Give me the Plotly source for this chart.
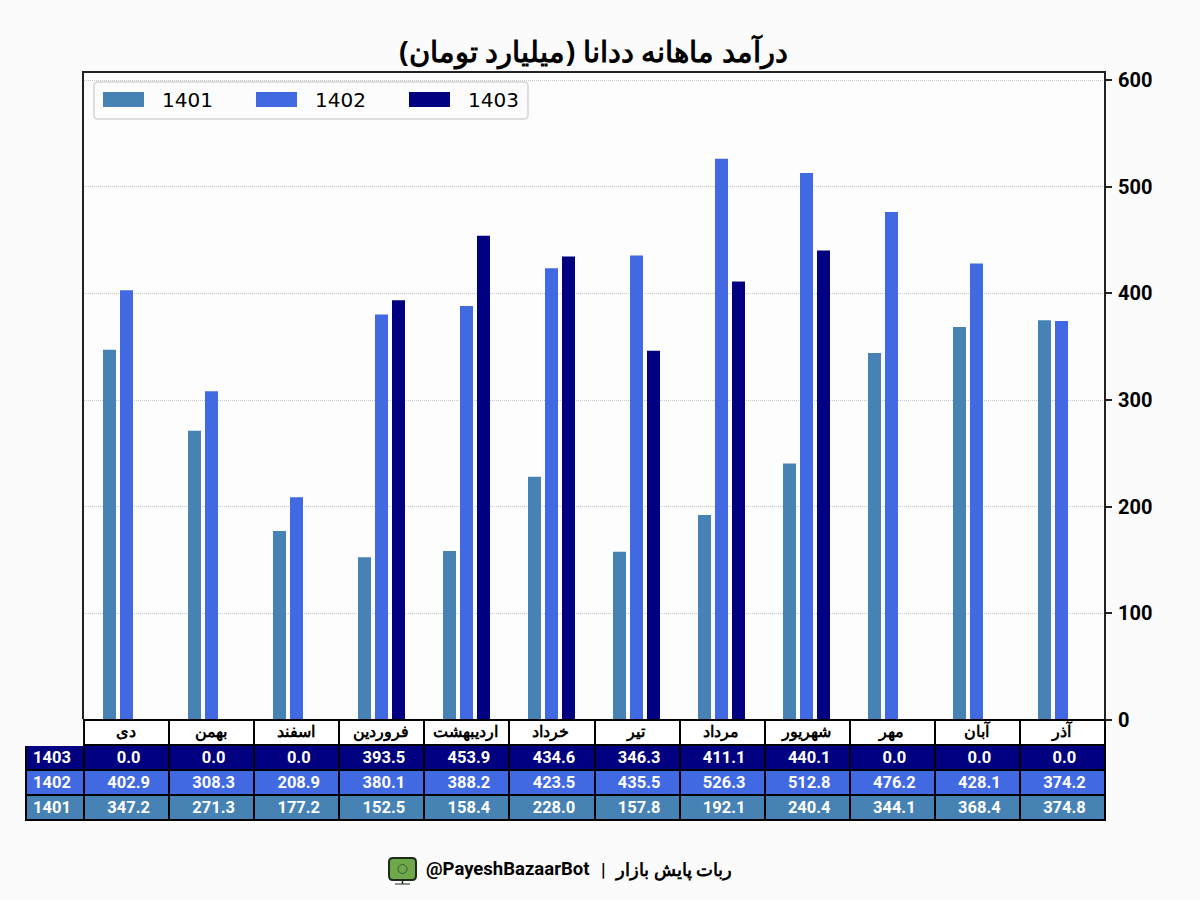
import plotly.graph_objects as go

months = ["دی", "بهمن", "اسفند", "فروردین", "اردیبهشت", "خرداد", "تیر", "مرداد", "شهریور", "مهر", "آبان", "آذر"]
v1401 = [347.2, 271.3, 177.2, 152.5, 158.4, 228.0, 157.8, 192.1, 240.4, 344.1, 368.4, 374.8]
v1402 = [402.9, 308.3, 208.9, 380.1, 388.2, 423.5, 435.5, 526.3, 512.8, 476.2, 428.1, 374.2]
v1403 = [0.0, 0.0, 0.0, 393.5, 453.9, 434.6, 346.3, 411.1, 440.1, 0.0, 0.0, 0.0]
series_names = ["1401", "1402", "1403"]
colors = ["#4682B4", "#4169E1", "#000080"]
title_text = "درآمد ماهانه ددانا (میلیارد تومان)"
footer_fa = "ربات پایش بازار"
footer_en = "@PayeshBazaarBot"

W, H = 1200, 900
BG = "#FBFBFB"
PLOT_BG = "#FDFDFD"
px = lambda x: x / W
py = lambda y: 1 - y / H


def rrect(x0, y0, x1, y1, r):
    return " ".join([f"M{px(x0 + r)},{py(y0)}", f"L{px(x1 - r)},{py(y0)}", f"Q{px(x1)},{py(y0)} {px(x1)},{py(y0 + r)}",
                     f"L{px(x1)},{py(y1 - r)}", f"Q{px(x1)},{py(y1)} {px(x1 - r)},{py(y1)}", f"L{px(x0 + r)},{py(y1)}",
                     f"Q{px(x0)},{py(y1)} {px(x0)},{py(y1 - r)}", f"L{px(x0)},{py(y0 + r)}",
                     f"Q{px(x0)},{py(y0)} {px(x0 + r)},{py(y0)}", "Z"])


fig = go.Figure()
for name, vals, c in zip(series_names, [v1401, v1402, v1403], colors):
    fig.add_trace(go.Bar(x=months, y=vals, name=name, marker=dict(color=c, line=dict(width=0)), showlegend=False))

rows = [v1403, v1402, v1401]
cols = [[str(n) for n in series_names[::-1]]]
for i in range(12):
    cols.append([f"{r[i]:.1f}" for r in rows])
fig.add_trace(go.Table(
    domain=dict(x=[px(26), px(1105)], y=[py(822), py(720)]),
    columnwidth=[58] + [85] * 12,
    header=dict(values=[""] + months, height=25,
                fill=dict(color=[BG] + ["white"] * 12),
                line=dict(color=[BG] + ["black"] * 12, width=2),
                font=dict(family="Noto Sans, Roboto", size=16, color="black", weight="bold"),
                align="center"),
    cells=dict(values=cols, height=25,
               fill=dict(color=[colors[::-1]] * 13),
               line=dict(color="black", width=2),
               font=dict(family="Roboto", size=16.5, color="white", weight="bold"),
               align=["left"] + ["center"] * 12),
))

shapes = []
annos = []
# legend box
shapes.append(dict(type="path", xref="paper", yref="paper", path=rrect(94, 82, 528, 119, 4),
                   line=dict(color="#D4D4D4", width=1.5), fillcolor="#FCFCFC", layer="above"))
for name, c, x0, tx in zip(series_names, colors, [103, 256, 409], [160, 313, 466]):
    shapes.append(dict(type="rect", xref="paper", yref="paper", x0=px(x0), x1=px(x0 + 41), y0=py(92), y1=py(107),
                       fillcolor=c, line=dict(width=0), layer="above"))
    annos.append(dict(text=name, xref="paper", yref="paper", x=px(tx), y=py(100), xanchor="left", yanchor="middle",
                      showarrow=False, font=dict(family="DejaVu Sans", size=20, color="black")))

# footer
annos.append(dict(text=footer_en, xref="paper", yref="paper", x=px(591), y=py(869), xanchor="right", yanchor="middle",
                  showarrow=False, font=dict(family="Roboto", size=18.5, color="black", weight="bold")))
annos.append(dict(text="|", xref="paper", yref="paper", x=px(603.5), y=py(869), xanchor="center", yanchor="middle",
                  showarrow=False, font=dict(family="Roboto", size=18, color="black", weight="bold")))
annos.append(dict(text=footer_fa, xref="paper", yref="paper", x=px(734), y=py(869), xanchor="right", yanchor="middle",
                  showarrow=False, font=dict(family="Noto Sans, Roboto", size=18, color="black", weight="bold")))
# icon
shapes.append(dict(type="path", xref="paper", yref="paper", path=rrect(389, 858, 416, 880, 4),
                   fillcolor="#6FA84B", line=dict(color="#1E2B1A", width=2), layer="above"))
shapes.append(dict(type="circle", xref="paper", yref="paper", x0=px(398), x1=px(407), y0=py(864.5), y1=py(873.5),
                   fillcolor="rgba(0,0,0,0)", line=dict(color="#3C5A30", width=1), layer="above"))
shapes.append(dict(type="line", xref="paper", yref="paper", x0=px(402.5), x1=px(402.5), y0=py(880), y1=py(884),
                   line=dict(color="#1E2B1A", width=1.5), layer="above"))
shapes.append(dict(type="line", xref="paper", yref="paper", x0=px(395), x1=px(410), y0=py(884), y1=py(884),
                   line=dict(color="#1E2B1A", width=1), layer="above"))

fig.update_layout(
    width=W, height=H, margin=dict(l=0, r=0, t=0, b=0, autoexpand=False),
    paper_bgcolor=BG, plot_bgcolor=PLOT_BG,
    barmode="group", bargap=0.4, bargroupgap=0.235,
    showlegend=False, shapes=shapes, annotations=annos,
    title=dict(text=title_text, x=px(593.5), xref="paper", xanchor="center", y=py(52), yanchor="middle",
               font=dict(family="Noto Sans, Roboto", size=29, color="black", weight="bold")),
    xaxis=dict(domain=[px(84), px(1104)], type="category", categoryorder="array", categoryarray=months,
               showticklabels=False, ticks="", showgrid=False, showline=True, mirror=True,
               linecolor="#222222", linewidth=2, range=[-0.5, 11.5]),
    yaxis=dict(domain=[py(720), py(73)], side="right", range=[0, 606.6], tickvals=[0, 100, 200, 300, 400, 500, 600],
               ticks="outside", ticklen=6, tickwidth=1.5, tickcolor="#222222", showgrid=True, griddash="1px,1px",
               gridcolor="#C8C8C8", gridwidth=1, showline=True, mirror=True, linecolor="#222222", linewidth=2,
               zeroline=False, ticklabelstandoff=2, tickfont=dict(family="Roboto", size=20, color="black", weight="bold")),
)
css = (".y-column .cell-text{transform:translate(2px,-2px)}"
       ".y-column #header .cell-text{transform:translate(-1px,-3px)}")
post = ("document.body.style.margin='0';document.body.style.background='%s';"
        "var s=document.createElement('style');s.textContent='%s';document.head.appendChild(s);"
        "function fixFirst(){var c=document.querySelector('.y-column');if(c){c.querySelectorAll('.cell-text')"
        ".forEach(function(t){t.style.transform='translate(-1px,-2px)';});}}"
        "fixFirst();setTimeout(fixFirst,50);setTimeout(fixFirst,300);" % (BG, css))
fig.write_html("out.html", config=dict(displayModeBar=False), post_script=post)
